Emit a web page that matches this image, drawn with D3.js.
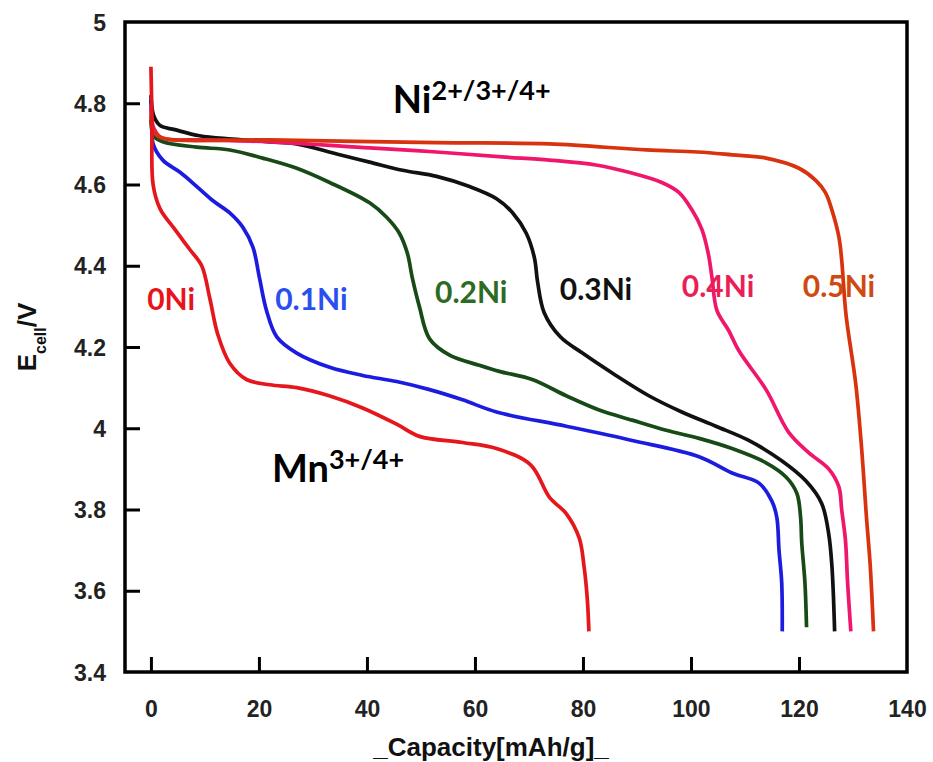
<!DOCTYPE html>
<html>
<head>
<meta charset="utf-8">
<script src="https://cdn.jsdelivr.net/npm/d3@7"></script>
<style>
  body { margin: 0; background: #fff; }
  svg { display: block; }
  .tick text { font-family: "Liberation Sans", Arial, sans-serif; font-weight: bold; }
</style>
</head>
<body>
<svg id="graph" width="933" height="762"></svg>
<script>
// capacity (mAh/g), voltage (V)
var ni00 = [[0,4.89],[0.2,4.76],[0.4,4.60],[1.7,4.54],[4.4,4.49],[7.2,4.44],[9.4,4.40],[10.9,4.32],[12.4,4.23],[14.6,4.16],[17.7,4.12],[22,4.107],[27,4.10],[33,4.08],[39.2,4.05],[45.5,4.01],[49.7,3.98],[57.7,3.965],[64,3.95],[70.3,3.91],[73.8,3.83],[76.9,3.79],[79.3,3.73],[80.2,3.66],[80.8,3.58],[81.1,3.50]];
var ni01 = [[0,4.81],[0.2,4.74],[0.4,4.70],[2.2,4.66],[5.4,4.63],[8.5,4.595],[11.5,4.56],[14.6,4.53],[17,4.495],[18.9,4.445],[20.1,4.37],[21.4,4.29],[23.3,4.225],[27,4.185],[33.1,4.15],[39.2,4.13],[45.5,4.115],[51.6,4.095],[57.7,4.07],[64,4.04],[76.9,4.005],[89.1,3.97],[101.5,3.93],[107.6,3.89],[112.6,3.865],[115,3.82],[115.9,3.78],[116.3,3.70],[116.8,3.62],[116.9,3.50]];
var ni02 = [[0,4.76],[0.5,4.72],[2.2,4.705],[8.5,4.692],[14.6,4.685],[20.7,4.665],[27,4.64],[33.1,4.605],[40.5,4.555],[43.6,4.52],[46,4.48],[47.5,4.43],[48.4,4.37],[49.7,4.30],[51.6,4.22],[55.3,4.18],[60.8,4.155],[64.5,4.14],[70.6,4.12],[76.9,4.08],[83,4.045],[89.1,4.02],[95.4,3.995],[101.5,3.975],[107.6,3.95],[113.9,3.915],[117.6,3.88],[119.6,3.84],[120.3,3.78],[120.5,3.72],[121.1,3.62],[121.4,3.51]];
var ni03 = [[0,4.82],[0.5,4.77],[1.7,4.745],[4.4,4.735],[9,4.72],[15,4.712],[22,4.705],[27,4.70],[34.4,4.675],[40.5,4.655],[46.6,4.635],[52.9,4.62],[59,4.595],[64,4.565],[67,4.53],[69.5,4.48],[71,4.42],[71.6,4.36],[72.8,4.285],[75.8,4.225],[79.9,4.185],[86.1,4.13],[92.2,4.08],[98.3,4.04],[104.6,4.005],[110.7,3.97],[116.8,3.92],[121.3,3.87],[124.2,3.815],[125.5,3.74],[126.1,3.66],[126.6,3.50]];
var ni04 = [[0,4.79],[0.5,4.74],[2,4.715],[10,4.71],[22,4.705],[40.5,4.69],[52.9,4.68],[65,4.668],[73.8,4.66],[82.4,4.648],[88.5,4.63],[94.6,4.605],[97.8,4.58],[100.2,4.537],[102,4.49],[103.2,4.43],[103.9,4.37],[104.8,4.29],[107,4.24],[108.9,4.19],[113.9,4.095],[118.1,3.99],[121.8,3.94],[125.5,3.90],[127.4,3.855],[127.9,3.80],[128.6,3.725],[129,3.62],[129.6,3.50]];
var ni05 = [[0,4.77],[0.5,4.73],[2,4.715],[22,4.71],[52.9,4.703],[73.8,4.70],[91.7,4.685],[101.2,4.68],[107.6,4.673],[113.9,4.665],[120,4.64],[123.1,4.61],[124.9,4.58],[126.1,4.537],[127.4,4.47],[127.9,4.415],[128.7,4.28],[130.5,4.11],[131.6,3.95],[132.5,3.78],[133.2,3.66],[133.8,3.50]];

var seriesNames = ["0.1Ni", "0.2Ni", "0.3Ni", "0.4Ni", "0.5Ni", "0Ni"];
var seriesData = [ni01, ni02, ni03, ni04, ni05, ni00];
var lineColors = ["#1c1ce0", "#174a17", "#111111", "#f0166c", "#d8320e", "#e5161c"];
var labelColors = ["#2a4ff0", "#2d6a22", "#111111", "#ea1f55", "#cf4a12", "#e8141b"];
// where each label sits, in capacity / voltage
var labelCap = [23.0, 52.6, 75.7, 98.3, 120.7, -0.7];
var labelV = [4.29, 4.308, 4.316, 4.323, 4.323, 4.29];

var xTicks = [0, 20, 40, 60, 80, 100, 120, 140];
var yTicks = [3.4, 3.6, 3.8, 4, 4.2, 4.4, 4.6, 4.8, 5];

var svg = d3.select("#graph");
var plotLeft = 125, plotRight = 907, plotTop = 22, plotBottom = 672;

var x = d3.scaleLinear().domain([-4.8, 140]).range([plotLeft, plotRight]);
var y = d3.scaleLinear().domain([3.4, 5]).range([plotBottom, plotTop]);

// inward ticks
svg.append("g")
    .attr("transform", "translate(0," + plotBottom + ")")
    .call(d3.axisTop(x).tickValues(xTicks.filter(d => d < 140)).tickSize(15).tickFormat(""))
    .call(g => g.select(".domain").remove())
    .selectAll("line").attr("stroke", "#000").attr("stroke-width", 3);
svg.append("g")
    .attr("transform", "translate(" + plotLeft + ",0)")
    .call(d3.axisRight(y).tickValues(yTicks.filter(d => d > 3.4 && d < 5)).tickSize(15).tickFormat(""))
    .call(g => g.select(".domain").remove())
    .selectAll("line").attr("stroke", "#000").attr("stroke-width", 3);

// tick labels
svg.append("g")
    .attr("transform", "translate(0," + (plotBottom + 42) + ")")
    .call(d3.axisBottom(x).tickValues(xTicks).tickSize(0).tickFormat(d3.format("d")))
    .call(g => g.select(".domain").remove())
    .selectAll("text").attr("font-size", 23).attr("fill", "#222").attr("dy", 0);
svg.append("g")
    .attr("transform", "translate(" + (plotLeft - 19) + ",0)")
    .call(d3.axisLeft(y).tickValues(yTicks).tickSize(0).tickFormat(d => d3.format("")(d)))
    .call(g => g.select(".domain").remove())
    .selectAll("text").attr("font-size", 23).attr("fill", "#222").attr("x", 0).attr("dy", "0.35em");

// curves
var line = d3.line()
    .x(d => x(d[0]))
    .y(d => y(d[1]))
    .curve(d3.curveCatmullRom.alpha(0.5));

svg.append("g")
    .selectAll("path")
    .data(seriesData)
    .enter()
    .append("path")
    .attr("d", line)
    .attr("fill", "none")
    .attr("stroke", (d, i) => lineColors[i])
    .attr("stroke-width", 3.7)
    .attr("stroke-linejoin", "round");

// frame
svg.append("rect")
    .attr("x", plotLeft).attr("y", plotTop)
    .attr("width", plotRight - plotLeft).attr("height", plotBottom - plotTop)
    .attr("fill", "none").attr("stroke", "#000").attr("stroke-width", 3.5);

// series labels
svg.append("g")
    .selectAll("text")
    .data(seriesNames)
    .enter()
    .append("text")
    .attr("x", (d, i) => x(labelCap[i]))
    .attr("y", (d, i) => y(labelV[i]))
    .attr("font-family", "Lato, 'Open Sans', sans-serif")
    .attr("font-weight", "bold")
    .attr("font-size", 30)
    .attr("fill", (d, i) => labelColors[i])
    .text(d => d);

// redox annotations
function ionLabel(cap, v, base, sup) {
    var t = svg.append("text")
        .attr("x", x(cap)).attr("y", y(v))
        .attr("font-family", "Lato, 'Open Sans', sans-serif")
        .attr("font-weight", "bold")
        .attr("fill", "#000");
    t.append("tspan").attr("font-size", 38).text(base);
    t.append("tspan").attr("font-size", 27).attr("dy", -13).text(sup);
}
ionLabel(44.8, 4.776, "Ni", "2+/3+/4+");
ionLabel(22.4, 3.868, "Mn", "3+/4+");

// axis titles
svg.append("text")
    .attr("x", 491).attr("y", 756)
    .attr("text-anchor", "middle")
    .attr("font-family", "'Liberation Sans', Arial, sans-serif")
    .attr("font-weight", "bold")
    .attr("font-size", 26)
    .attr("fill", "#111")
    .text("_Capacity[mAh/g]_");

var yl = svg.append("text")
    .attr("transform", "translate(36,337) rotate(-90)")
    .attr("text-anchor", "middle")
    .attr("font-family", "'Liberation Sans', Arial, sans-serif")
    .attr("font-weight", "bold")
    .attr("font-size", 26)
    .attr("fill", "#111");
yl.append("tspan").text("E");
yl.append("tspan").attr("font-size", 16).attr("dy", 10).text("cell");
yl.append("tspan").attr("dy", -10).text("/V");
</script>
</body>
</html>
